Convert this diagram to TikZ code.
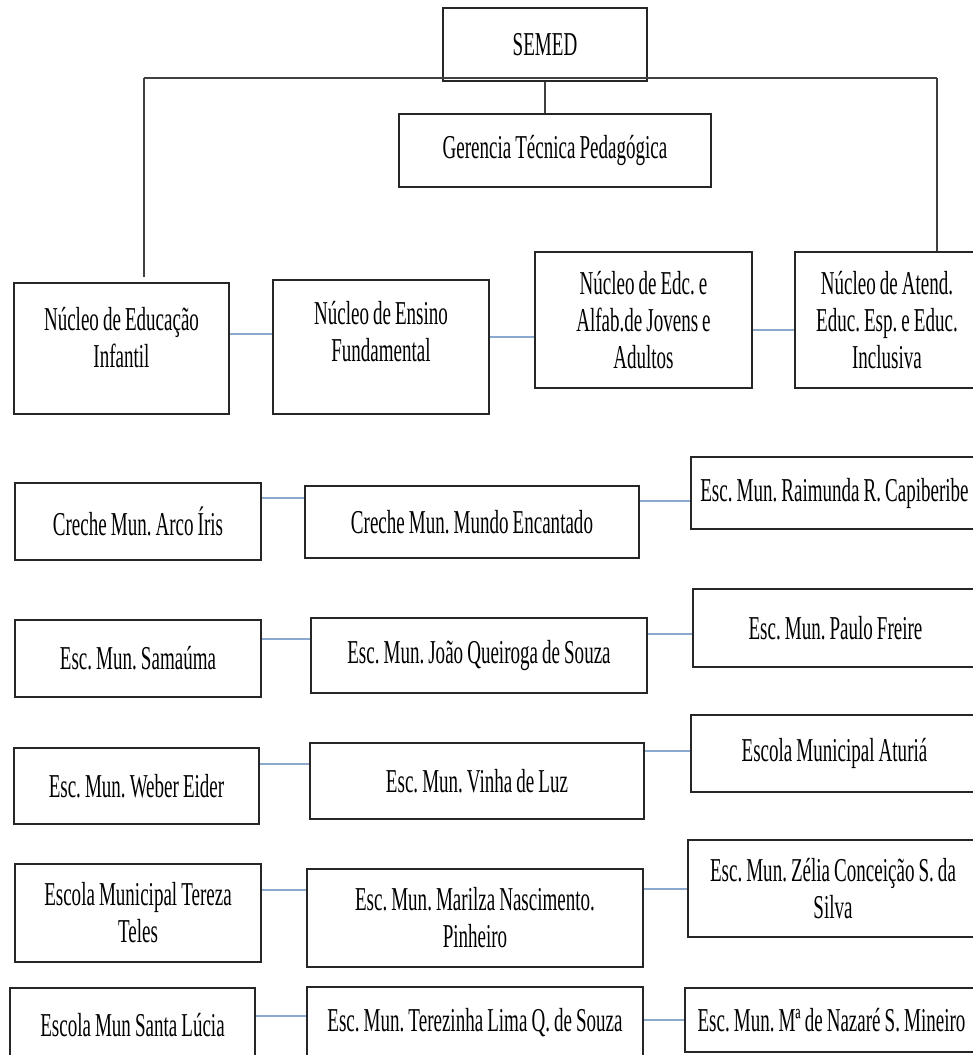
\documentclass[tikz,border=0pt]{standalone}
\usepackage{fontspec}
\setmainfont{Liberation Serif}[FakeStretch=0.57, WordSpace=0.85]
\usepackage{tikz}
\definecolor{linkblue}{RGB}{140,168,204}

\begin{document}
\frenchspacing
\begin{tikzpicture}[
    font=\fontsize{9.5}{10.5}\selectfont,
    orgbox/.style={draw=black!85, line width=0.7pt, fill=white, align=center, inner sep=2pt},
    tree/.style={draw=black!75, line width=0.35pt},
    link/.style={draw=linkblue, line width=0.5pt}
]
\fill[white] (0,0) rectangle (9.73,-10.55);
\useasboundingbox (0,0) rectangle (9.73,-10.55);

% Secretariat and management
\node[orgbox, minimum width=2.04cm, minimum height=0.73cm] (semed) at (5.45,-0.445) {SEMED};
\node[orgbox, minimum width=3.12cm, minimum height=0.73cm] (gerencia) at (5.55,-1.505) {Gerencia Técnica Pedagógica};

% Nuclei
\node[orgbox, minimum width=2.15cm, minimum height=1.31cm] (nucinf) at (1.215,-3.485) {Núcleo de Educação\\Infantil\\[-1.5mm]\mbox{}};
\node[orgbox, minimum width=2.16cm, minimum height=1.34cm] (nucfund) at (3.81,-3.47) {Núcleo de Ensino\\Fundamental\\[-0.5mm]\mbox{}};
\node[orgbox, minimum width=2.17cm, minimum height=1.36cm] (nucalfab) at (6.435,-3.20) {Núcleo de Edc. e\\Alfab.de Jovens e\\Adultos};
\node[orgbox, minimum width=1.84cm, minimum height=1.36cm] (nucesp) at (8.87,-3.20) {Núcleo de Atend.\\Educ. Esp. e Educ.\\Inclusiva};

% Tree lines
\coordinate (hubL) at (1.44,-0.78);
\coordinate (hubR) at (9.37,-0.78);
\draw[tree] (hubL) -- (hubR);
\draw[tree] (semed.south) -- (semed.south |- gerencia.north);
\draw[tree] (hubL) -- ([yshift=0.5mm]hubL |- nucinf.north);
\draw[tree] (hubR) -- (hubR |- nucesp.north);

\draw[link] ([yshift=1.45mm]nucinf.east) -- ([yshift=1.45mm]nucinf.east -| nucfund.west);
\draw[link] ([yshift=1.0mm]nucfund.east) -- ([yshift=1.0mm]nucfund.east -| nucalfab.west);
\draw[link] ([yshift=-1.0mm]nucalfab.east) -- ([yshift=-1.0mm]nucalfab.east -| nucesp.west);

% Schools, row 1
\node[orgbox, minimum width=2.46cm, minimum height=0.77cm] (arcoiris) at (1.38,-5.215) {Creche Mun. Arco Íris};
\node[orgbox, minimum width=3.34cm, minimum height=0.72cm] (mundoenc) at (4.72,-5.22) {Creche Mun. Mundo Encantado};
\node[orgbox, minimum width=2.87cm, minimum height=0.72cm] (raimunda) at (8.345,-4.93) {Esc. Mun. Raimunda R. Capiberibe};
\draw[link] ([yshift=2.35mm]arcoiris.east) -- ([yshift=2.35mm]arcoiris.east -| mundoenc.west);
\draw[link] ([yshift=2.1mm]mundoenc.east) -- ([yshift=2.1mm]mundoenc.east -| raimunda.west);

% Schools, row 2
\node[orgbox, minimum width=2.46cm, minimum height=0.77cm] (samauma) at (1.38,-6.585) {Esc. Mun. Samaúma};
\node[orgbox, minimum width=3.36cm, minimum height=0.75cm] (joaoq) at (4.79,-6.555) {Esc. Mun. João Queiroga de Souza};
\node[orgbox, minimum width=2.85cm, minimum height=0.78cm] (paulofr) at (8.355,-6.28) {Esc. Mun. Paulo Freire};
\draw[link] ([yshift=1.95mm]samauma.east) -- ([yshift=1.95mm]samauma.east -| joaoq.west);
\draw[link] ([yshift=2.15mm]joaoq.east) -- ([yshift=2.15mm]joaoq.east -| paulofr.west);

% Schools, row 3
\node[orgbox, minimum width=2.45cm, minimum height=0.76cm] (weber) at (1.365,-7.86) {Esc. Mun. Weber Eider};
\node[orgbox, minimum width=3.34cm, minimum height=0.76cm] (vinhaluz) at (4.77,-7.81) {Esc. Mun. Vinha de Luz};
\node[orgbox, minimum width=2.87cm, minimum height=0.77cm] (aturia) at (8.345,-7.535) {Escola Municipal Aturiá};
\draw[link] ([yshift=2.2mm]weber.east) -- ([yshift=2.2mm]weber.east -| vinhaluz.west);
\draw[link] ([yshift=3.0mm]vinhaluz.east) -- ([yshift=3.0mm]vinhaluz.east -| aturia.west);

% Schools, row 4
\node[orgbox, minimum width=2.46cm, minimum height=0.98cm] (tereza) at (1.38,-9.13) {Escola Municipal Tereza\\Teles};
\node[orgbox, minimum width=3.36cm, minimum height=0.98cm] (marilza) at (4.75,-9.18) {Esc. Mun. Marilza Nascimento.\\Pinheiro};
\node[orgbox, minimum width=2.90cm, minimum height=0.97cm] (zelia) at (8.33,-8.885) {Esc. Mun. Zélia Conceição S. da\\Silva};
\draw[link] ([yshift=2.3mm]tereza.east) -- ([yshift=2.3mm]tereza.east -| marilza.west);
\draw[link] ([yshift=2.9mm]marilza.east) -- ([yshift=2.9mm]marilza.east -| zelia.west);

% Schools, row 5
\node[orgbox, minimum width=2.45cm, minimum height=0.74cm] (stlucia) at (1.325,-10.25) {Escola Mun Santa Lúcia};
\node[orgbox, minimum width=3.36cm, minimum height=0.72cm] (terezinha) at (4.75,-10.23) {Esc. Mun. Terezinha Lima Q. de Souza};
\node[orgbox, minimum width=2.93cm, minimum height=0.64cm] (mineiro) at (8.315,-10.20) {Esc. Mun. Mª de Nazaré S. Mineiro};
\draw[link] ([yshift=0.9mm]stlucia.east) -- ([yshift=0.9mm]stlucia.east -| terezinha.west);
\draw[link] ([yshift=0.3mm]terezinha.east) -- ([yshift=0.3mm]terezinha.east -| mineiro.west);

\end{tikzpicture}
\end{document}
